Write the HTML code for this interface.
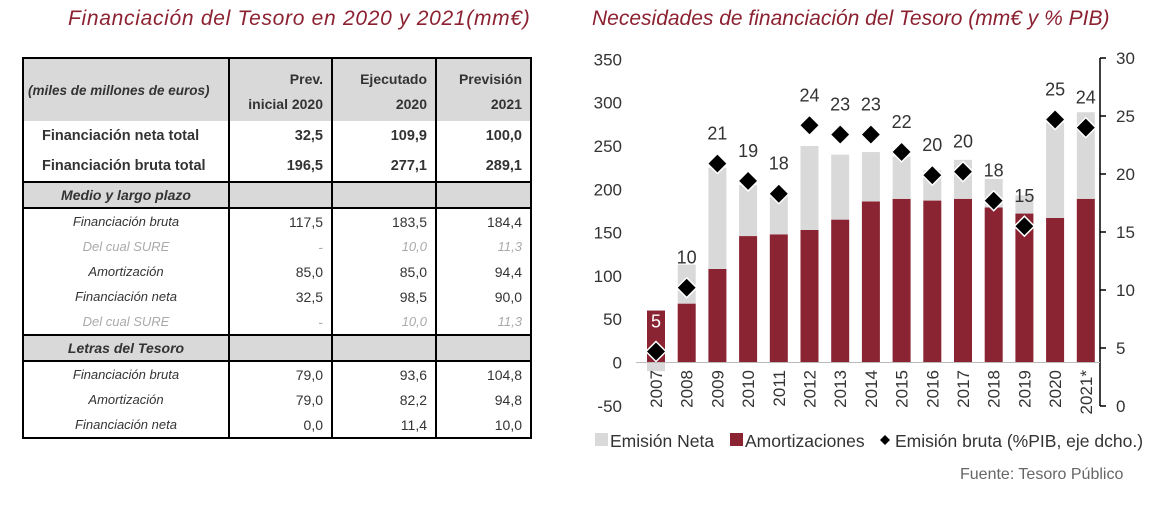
<!DOCTYPE html>
<html><head><meta charset="utf-8">
<style>
body{margin:0;width:1164px;height:516px;background:#fff;position:relative;overflow:hidden;font-family:"Liberation Sans",sans-serif;color:#333}
.title{position:absolute;top:7px;font-style:italic;color:#8c2231;font-size:21px}
table{position:absolute;left:22px;top:57px;border-collapse:collapse;border:2.5px solid #000;font-size:13.5px;table-layout:fixed}
td{padding:0 8px;border-left:2px solid #000;border-right:2px solid #000;text-align:right;white-space:nowrap}
td.l{text-align:center;}
tr.hd td{background:#d9d9d9;font-weight:bold;height:58px;vertical-align:bottom;padding-bottom:4px;line-height:25px;font-size:14px}
tr.sec td{background:#d9d9d9;height:24px;border-top:2px solid #000;border-bottom:2px solid #000;font-weight:bold;font-style:italic;font-size:14px}
tr.big td{font-weight:bold;height:30px;font-size:14.5px}
tr.big td.l{text-align:left;padding-left:18px}
tr.r td{height:25px;font-style:italic;font-size:13px;line-height:16px}
tr.r td.n{font-style:normal;font-size:14px}
tr.s td{color:#aaa}
</style></head><body>
<div class="title" style="left:68px;letter-spacing:0.7px">Financiación del Tesoro en 2020 y 2021(mm€)</div>
<div class="title" style="left:592px">Necesidades de financiación del Tesoro (mm€ y % PIB)</div>
<table>
<colgroup><col style="width:206px"><col style="width:103px"><col style="width:104px"><col style="width:95px"></colgroup>
<tr class="hd"><td class="l" style="font-style:italic;vertical-align:middle;padding:0 4px;text-align:left;font-size:13.5px">(miles de millones de euros)</td><td>Prev.<br>inicial 2020</td><td>Ejecutado<br>2020</td><td>Previsión<br>2021</td></tr>
<tr class="big"><td class="l">Financiación neta total</td><td>32,5</td><td>109,9</td><td>100,0</td></tr>
<tr class="big"><td class="l">Financiación bruta total</td><td>196,5</td><td>277,1</td><td>289,1</td></tr>
<tr class="sec"><td class="l">Medio y largo plazo</td><td></td><td></td><td></td></tr>
<tr class="r"><td class="l">Financiación bruta</td><td class="n">117,5</td><td class="n">183,5</td><td class="n">184,4</td></tr>
<tr class="r s"><td class="l">Del cual SURE</td><td class="n">-</td><td>10,0</td><td>11,3</td></tr>
<tr class="r"><td class="l">Amortización</td><td class="n">85,0</td><td class="n">85,0</td><td class="n">94,4</td></tr>
<tr class="r"><td class="l">Financiación neta</td><td class="n">32,5</td><td class="n">98,5</td><td class="n">90,0</td></tr>
<tr class="r s"><td class="l">Del cual SURE</td><td class="n">-</td><td>10,0</td><td>11,3</td></tr>
<tr class="sec"><td class="l">Letras del Tesoro</td><td></td><td></td><td></td></tr>
<tr class="r"><td class="l">Financiación bruta</td><td class="n">79,0</td><td class="n">93,6</td><td class="n">104,8</td></tr>
<tr class="r"><td class="l">Amortización</td><td class="n">79,0</td><td class="n">82,2</td><td class="n">94,8</td></tr>
<tr class="r"><td class="l">Financiación neta</td><td class="n">0,0</td><td class="n">11,4</td><td class="n">10,0</td></tr>
</table>
<svg id="chart" width="1164" height="516" style="position:absolute;left:0;top:0"></svg>
<div style="position:absolute;left:960px;top:466px;font-size:16px;color:#666">Fuente: Tesoro Público</div>
<script>
const years=["2007","2008","2009","2010","2011","2012","2013","2014","2015","2016","2017","2018","2019","2020","2021*"];
const amort=[60,68,108,146,148,153,165,186,189,187,189,179,172,167,189];
const neta=[-10,45,117,59,44,97,75,57,49,35,45,33,21,110,100];
const pib=[4.7,10.2,20.9,19.4,18.3,24.2,23.4,23.4,21.9,19.9,20.2,17.7,15.5,24.7,24.0];
const pibLabels=["5","10","21","19","18","24","23","23","22","20","20","18","15","25","24"];
const leftTicks=[-50,0,50,100,150,200,250,300,350];
const rightTicks=[0,5,10,15,20,25,30];
const NS="http://www.w3.org/2000/svg";
const svg=document.getElementById('chart');
const yL=v=>362.5-v*0.866;
const yR=v=>406-v*11.6;
const xC=i=>656+i*30.7;
const BW=18;
function mk(t,a,txt){const e=document.createElementNS(NS,t);for(const k in a)e.setAttribute(k,a[k]);if(txt!==undefined)e.textContent=txt;svg.appendChild(e);return e;}
leftTicks.forEach(v=>{const e=mk('text',{x:622,y:yL(v)+6,'text-anchor':'end','font-size':17,fill:'#333','font-family':'Liberation Sans'},v);
});
mk('line',{x1:1100,x2:1100,y1:58,y2:406,stroke:'#000','stroke-width':1.5});
rightTicks.forEach(v=>{mk('line',{x1:1100,x2:1106,y1:yR(v),y2:yR(v),stroke:'#000','stroke-width':1.5});
const e=mk('text',{x:1116,y:yR(v)+6,'font-size':17,fill:'#333','font-family':'Liberation Sans'},v);
});
years.forEach((y,i)=>{
 const x=xC(i)-BW/2;
 const a=amort[i],n=neta[i];
 const r1=mk('rect',{x:x,y:yL(a),width:BW,height:yL(0)-yL(a),fill:'#8a2432'});
 
 let top,bot; if(n>=0){top=yL(a+n);bot=yL(a);}else{top=yL(0);bot=yL(n);}
 const r2=mk('rect',{x:x,y:top,width:BW,height:bot-top,fill:'#d9d9d9'});
 
});
mk('line',{x1:636,x2:1100,y1:yL(0),y2:yL(0),stroke:'#bbb','stroke-width':1});
years.forEach((y,i)=>{
 const cx=xC(i),cy=yR(pib[i]);
 const d=mk('polygon',{points:`${cx},${cy-10} ${cx+10},${cy} ${cx},${cy+10} ${cx-10},${cy}`,fill:'#000',stroke:'#fff','stroke-width':1.5});
 
 const t=mk('text',{x:cx,y:cy-24,'text-anchor':'middle','font-size':18,fill:i==0?'#fff':'#333','font-family':'Liberation Sans'},pibLabels[i]);
 
 const yl=mk('text',{x:0,y:0,'text-anchor':'end','font-size':17,fill:'#333','font-family':'Liberation Sans',transform:`translate(${cx+6},370) rotate(-90)`},y);
 
});
const lg=[[595,'#d9d9d9','Emisión Neta','legend-emision-neta'],[730,'#8a2432','Amortizaciones','legend-amortizaciones']];
lg.forEach(l=>{mk('rect',{x:l[0],y:433,width:13,height:13,fill:l[1]});
const t=mk('text',{x:l[0]+15,y:447,'font-size':17.5,fill:'#333','font-family':'Liberation Sans'},l[2]);
});
mk('polygon',{points:'885,435 890,440 885,445 880,440',fill:'#000'});
const t3=mk('text',{x:895,y:447,'font-size':17.5,fill:'#333','font-family':'Liberation Sans'},'Emisión bruta (%PIB, eje dcho.)');

</script>
</body></html>
